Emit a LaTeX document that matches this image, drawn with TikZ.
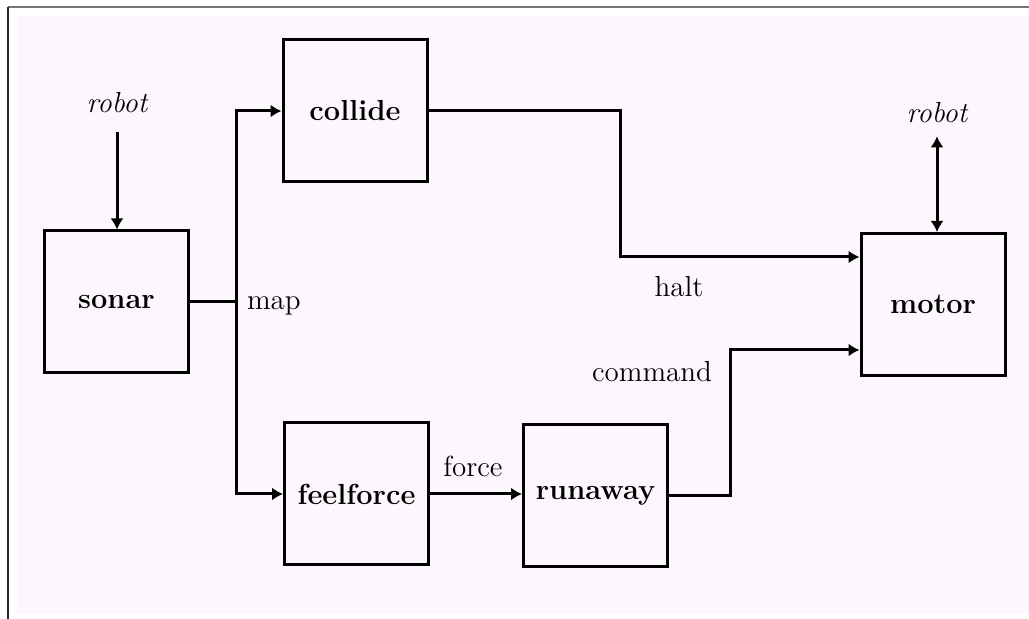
\documentclass[tikz,border=0pt]{standalone}
\usetikzlibrary{arrows.meta}
\definecolor{paper}{RGB}{252,247,252}
\definecolor{rule}{RGB}{118,118,118}
\tikzset{
	box/.style={draw,line width=1.5pt,minimum width=72pt,minimum height=71pt,inner sep=0pt,font=\fontsize{14.5}{17}\bfseries},
	lbl/.style={font=\fontsize{14.5}{17}\selectfont},
	arr/.style={line width=1.5pt,-{Latex[length=5.5pt,width=6.5pt]}},
}
\begin{document}
\begin{tikzpicture}[x=0.5pt,y=-0.5pt]
				\useasboundingbox (0,0) rectangle (1029,619);
				\fill[white] (0,0) rectangle (1029,619);
				\fill[paper] (17,16) rectangle (1029,614);
				\draw[rule,line width=1pt] (8,7.5) -- (1029,7.5);
				\draw[black!85,line width=1pt] (8,7) -- (8,619);
				\node[box] (sonar) at (116.5,302) {sonar};
				\node[box] (collide) at (355,111) {collide};
				\node[box] (feelforce) at (356.5,494) {feelforce};
				\node[box] (runaway) at (595.5,496) {runaway};
				\node[box] (motor) at (933,304.5) {motor};
				\node[lbl,font=\fontsize{14.5}{17}\itshape] (robotL) at (117,103) {robot};
				\node[lbl,font=\fontsize{14.5}{17}\itshape] (robotR) at (937,113) {robot};
				\coordinate (map) at (236,302);
				\coordinate (bend1) at (620,257);
				\coordinate (bend2) at (730,350);
				\node[lbl,anchor=west] (maplbl) at (240,306) {map};
				\node[lbl] (halt) at (679,287) {halt};
				\node[lbl] (force) at (473,466) {force};
				\node[lbl] (command) at (652,372) {command};
				\draw[arr,shorten <=6pt] (robotL.south) -- (robotL.south |- sonar.north);
				\draw[arr,{Latex[length=5.5pt,width=6.5pt]}-{Latex[length=5.5pt,width=6.5pt]},shorten <=3pt] (robotR.south) -- (robotR.south |- motor.north);
				\draw[line width=1.5pt] (sonar) -- (map);
				\draw[arr] (map) |- (collide);
				\draw[arr] (map) |- (feelforce);
				\draw[arr] (feelforce) -- (feelforce -| runaway.west);
				\draw[arr] (collide) -| (bend1) -- (motor.west |- bend1);
				\draw[arr] (runaway) -| (bend2) -- (motor.west |- bend2);
\end{tikzpicture}
\end{document}
